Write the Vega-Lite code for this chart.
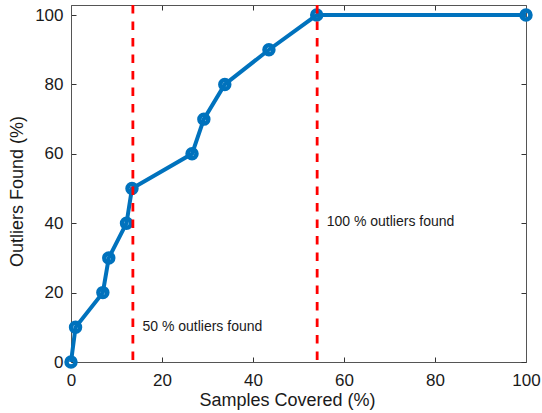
{
  "$schema": "https://vega.github.io/schema/vega-lite/v6.json",
  "autosize": {"type": "none"},
  "padding": {"left": 71, "top": 5, "right": 16, "bottom": 51},
  "width": 455,
  "height": 357,
  "background": "white",
  "config": {
    "view": {"stroke": null},
    "font": "Liberation Sans",
    "axis": {
      "grid": false,
      "domainColor": "#555555",
      "tickColor": "#333333",
      "labelColor": "#1a1a1a",
      "titleColor": "#1a1a1a",
      "labelFont": "Liberation Sans",
      "titleFont": "Liberation Sans",
      "labelFontSize": 17,
      "titleFontSize": 18,
      "titleFontWeight": "normal",
      "tickSize": -5,
      "labelFlush": false,
      "labelOverlap": false,
      "labelBound": false
    }
  },
  "datasets": {
    "curve": [
      {"samples": 0, "outliers": 0},
      {"samples": 1.0, "outliers": 10},
      {"samples": 7.0, "outliers": 20},
      {"samples": 8.3, "outliers": 30},
      {"samples": 12.2, "outliers": 40},
      {"samples": 13.4, "outliers": 50},
      {"samples": 26.6, "outliers": 60},
      {"samples": 29.2, "outliers": 70},
      {"samples": 33.8, "outliers": 80},
      {"samples": 43.5, "outliers": 90},
      {"samples": 54.0, "outliers": 100},
      {"samples": 100, "outliers": 100}
    ],
    "thresholds": [
      {"samples": 13.6, "label": "50 % outliers found", "lx": 15.7, "ly": 10.1},
      {"samples": 54.1, "label": "100 % outliers found", "lx": 56.2, "ly": 40.3}
    ],
    "frame": [
      {"fx": 0, "fy": 0}
    ]
  },
  "layer": [
    {
      "data": {"name": "frame"},
      "mark": {"type": "point", "opacity": 0},
      "encoding": {
        "x": {"field": "fx", "type": "quantitative", "scale": {"domain": [0, 100], "nice": false},
              "axis": {"orient": "top", "title": null, "labels": false, "values": [0, 20, 40, 60, 80, 100]}},
        "y": {"field": "fy", "type": "quantitative", "scale": {"domain": [0, 102.9], "nice": false},
              "axis": {"orient": "right", "title": null, "labels": false, "values": [0, 20, 40, 60, 80, 100]}}
      }
    },
    {
      "layer": [
        {
          "data": {"name": "curve"},
          "mark": {"type": "line", "color": "#0072BD", "strokeWidth": 4},
          "encoding": {
            "x": {"field": "samples", "type": "quantitative", "scale": {"domain": [0, 100], "nice": false},
                  "axis": {"orient": "bottom", "title": "Samples Covered (%)", "values": [0, 20, 40, 60, 80, 100], "labelPadding": 15, "titlePadding": 3, "titleX": 216}},
            "y": {"field": "outliers", "type": "quantitative", "scale": {"domain": [0, 102.9], "nice": false},
                  "axis": {"orient": "left", "title": "Outliers Found (%)", "values": [0, 20, 40, 60, 80, 100], "labelPadding": 13, "titlePadding": 8, "titleY": 186}}
          }
        },
        {
          "data": {"name": "curve"},
          "mark": {"type": "point", "shape": "circle", "filled": false, "color": "#0072BD", "strokeWidth": 4.5, "size": 80, "opacity": 1},
          "encoding": {
            "x": {"field": "samples", "type": "quantitative"},
            "y": {"field": "outliers", "type": "quantitative"}
          }
        },
        {
          "data": {"name": "thresholds"},
          "mark": {"type": "rule", "color": "#FF0000", "strokeWidth": 2.8, "strokeDash": [8.5, 8]},
          "encoding": {
            "x": {"field": "samples", "type": "quantitative"}
          }
        },
        {
          "data": {"name": "thresholds"},
          "mark": {"type": "text", "align": "left", "baseline": "middle", "fontSize": 14, "color": "#1a1a1a", "font": "Liberation Sans"},
          "encoding": {
            "x": {"field": "lx", "type": "quantitative"},
            "y": {"field": "ly", "type": "quantitative"},
            "text": {"field": "label"}
          }
        }
      ]
    }
  ],
  "resolve": {"axis": {"x": "independent", "y": "independent"}}
}
